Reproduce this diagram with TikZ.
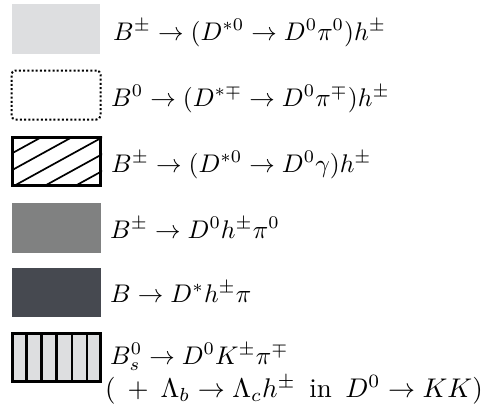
\documentclass[tikz,border=0pt]{standalone}
\newcommand{\lgtxt}[1]{\scalebox{2.55}{#1}}
\newcommand{\lgtxtb}[1]{\scalebox{2.7}{#1}}
\begin{document}
\begin{tikzpicture}[x=1pt,y=-1pt,
  lbl/.style={anchor=base west,inner sep=0pt,font=\fontsize{10}{12}\selectfont},
  thickbox/.style={draw=black,line width=3pt}]
\useasboundingbox (0,0) rectangle (489,405);
\definecolor{lightg}{RGB}{221,222,224}
\definecolor{midg}{RGB}{128,129,129}
\definecolor{darkg}{RGB}{70,73,80}
% row 1
\node[fill=lightg,minimum width=88pt,minimum height=50pt,inner sep=0pt] (b1) at (56,29) {};
\node[lbl] (t1) at (113,40) {\lgtxt{$B^\pm \to (D^{*0} \to D^0\pi^0)h^\pm$}};
% row 2
\node[draw=black,line width=2pt,dash pattern=on 2pt off 2.2pt,rounded corners=4pt,minimum width=89pt,minimum height=49pt,inner sep=0pt] (b2) at (56,95) {};
\node[lbl] (t2) at (111,106) {\lgtxt{$B^0 \to (D^{*\mp} \to D^0\pi^\mp)h^\pm$}};
% row 3
\begin{scope}
\clip (11,136) rectangle (102,186);
\foreach \s in {-78,-47.4,-16.8,13.8,44.4,75} {
  \draw[line width=1.7pt] (\s,186) -- ++(110,-60.5);
}
\end{scope}
\node[thickbox,minimum width=88pt,minimum height=48pt,inner sep=0pt] (b3) at (56.5,161) {};
\node[lbl] (t3) at (111,172) {\lgtxt{$B^\pm \to (D^{*0} \to D^0\gamma)h^\pm$}};
% row 4
\node[fill=midg,minimum width=89pt,minimum height=50pt,inner sep=0pt] (b4) at (56.5,228) {};
\node[lbl] (t4) at (110,238) {\lgtxt{$B^\pm \to D^0 h^\pm \pi^0$}};
% row 5
\node[fill=darkg,minimum width=89pt,minimum height=49pt,inner sep=0pt] (b5) at (56.5,292.5) {};
\node[lbl] (t5) at (110,302) {\lgtxt{$B \to D^* h^\pm \pi$}};
% row 6
\node[thickbox,fill=lightg,minimum width=88pt,minimum height=48pt,inner sep=0pt] (b6) at (56.5,357.5) {};
\foreach \i in {1,...,5} {
  \draw[line width=2.6pt] ([xshift=\i*15.2pt]b6.north west) -- ([xshift=\i*15.2pt]b6.south west);
}
\node[lbl] (t6) at (110,364) {\lgtxt{$B_s^0 \to D^0 K^\pm \pi^\mp$}};
\node[lbl] (t7) at (105,397.5) {\lgtxtb{$(\;\,+\;\,\Lambda_b \to \Lambda_c h^\pm$ \,in\, $D^0 \to KK)$}};
\end{tikzpicture}
\end{document}
